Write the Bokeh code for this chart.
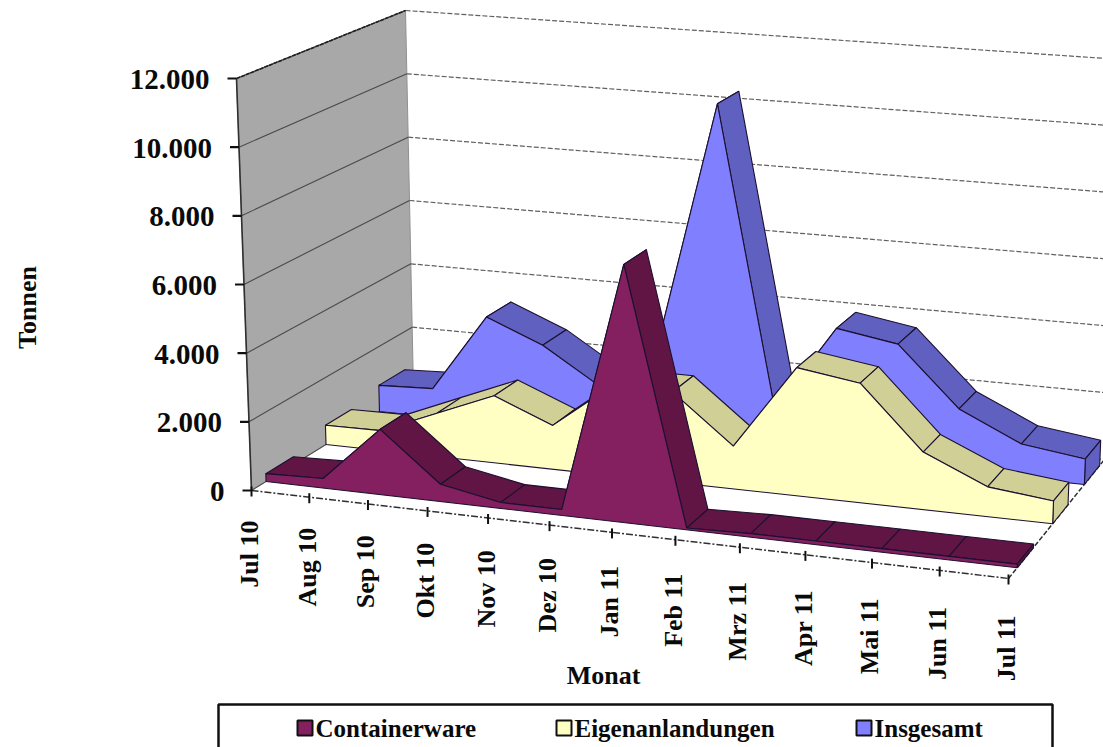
import numpy as np
from bokeh.plotting import figure
from bokeh.models import Range1d
from bokeh.core.properties import value
from bokeh.embed import file_html
from bokeh.resources import INLINE

months = ["Jul 10","Aug 10","Sep 10","Okt 10","Nov 10","Dez 10","Jan 11","Feb 11","Mrz 11","Apr 11","Mai 11","Jun 11","Jul 11"]
containerware = [230,280,1900,500,170,170,7340,50,100,100,100,100,100]
eigenanlandungen = [580,600,1300,2000,1300,2650,2650,1250,3720,3450,1650,850,650]
insgesamt = [810,880,3250,2550,1470,2820,10350,1300,3900,3600,1850,1000,750]
y_ticks = [0,2000,4000,6000,8000,10000,12000]
y_labels = ["0","2.000","4.000","6.000","8.000","10.000","12.000"]
y_max = 12000
series_names = ["Containerware","Eigenanlandungen","Insgesamt"]

# projection of the 3-D box onto the picture
FL0, FR0, BL0, BR0 = np.array([251.,490.]), np.array([1008.,578.]), np.array([413.,390.]), np.array([1104.,459.])
FL1, FR1, BL1, BR1 = np.array([236.,78.]), np.array([1024.,138.]), np.array([405.,10.]), np.array([1120.,59.])
WARP = 0.1
N = len(months) - 1

def proj(i, d, h):
    u = i / N
    w = u / (1 + WARP * (1 - u))
    f = (FL0*(1-w)+FR0*w)*(1-d) + (BL0*(1-w)+BR0*w)*d
    t = (FL1*(1-w)+FR1*w)*(1-d) + (BL1*(1-w)+BR1*w)*d
    return f + (t-f)*h/y_max

W, H = 1103, 747
p = figure(width=W, height=H, x_range=Range1d(0, W), y_range=Range1d(H, 0),
           x_axis_location=None, y_axis_location=None, toolbar_location=None,
           output_backend="svg", min_border=0, outline_line_color=None,
           background_fill_color="white")
p.grid.visible = False

def poly(pts, fill, line="#1c1030", lw=1.1, alpha=1.0):
    p.patch([q[0] for q in pts], [q[1] for q in pts], fill_color=fill, line_color=line, line_width=lw, line_alpha=alpha)

def seg(a, b, color="#303030", lw=1.0, dash="solid", alpha=1.0):
    p.line([a[0], b[0]], [a[1], b[1]], line_color=color, line_width=lw, line_dash=dash, line_alpha=alpha)

# left wall
poly([proj(0,0,0), proj(0,0,y_max), proj(0,1,y_max), proj(0,1,0)], "#a8a8a8", line="#909090", lw=1)
for t in y_ticks[1:]:
    seg(proj(0,0,t), proj(0,1,t), "#4a4a4a", 1.1)
    seg(proj(0,1,t), proj(N,1,t), "#606060", 1.2, "5 2")
seg(proj(0,1,0), proj(N,1,0), "#606060", 1.2, "5 2")
seg(proj(N,1,0), proj(N,1,y_max), "#707070", 1.1)
seg(proj(0,0,y_max), proj(0,1,y_max), "#202020", 1.6, "4 1")
seg(proj(0,0,0), proj(0,0,y_max), "#303030", 1.6)

# floor edges and axis
seg(proj(0,0,0), proj(0,1,0), "#505050", 1.1)
seg(proj(0,0,0), proj(N,0,0), "#303030", 1.5, "7 2 2 2")
seg(proj(N,0,0), proj(N,1,0), "#303030", 1.5, "5 2")

# series, back to front
styles = [
    (insgesamt, 0.79, 0.95, "#8080ff", "#5f60c0"),
    (eigenanlandungen, 0.46, 0.62, "#ffffc4", "#cfcf96"),
    (containerware, 0.09, 0.26, "#84205f", "#601545"),
]
for vals, d0, d1, front, top in styles:
    for i in range(N):
        poly([proj(i,d0,vals[i]), proj(i,d1,vals[i]), proj(i+1,d1,vals[i+1]), proj(i+1,d0,vals[i+1])], top)
    poly([proj(N,d0,0), proj(N,d1,0), proj(N,d1,vals[N]), proj(N,d0,vals[N])], top)
    pts = [proj(i,d0,vals[i]) for i in range(N+1)] + [proj(N,d0,0), proj(0,d0,0)]
    poly(pts, front)

FONT = value("Liberation Serif")
def label(x, y, txt, size, align="center", angle=0.0, base="middle"):
    p.text([x], [y], text=[txt], text_font=FONT, text_font_style="bold", text_font_size=f"{size}px",
           text_align=align, text_baseline=base, angle=angle, text_color="#0a0a0a")

# value axis
for t, lab in zip(y_ticks, y_labels):
    a = proj(0,0,t)
    seg((a[0]-9, a[1]), a, "#101010", 2.2)
    label(a[0]-27, a[1]+1, lab, 29, "right")

# month axis
for i, m in enumerate(months):
    a = proj(i,0,0)
    seg((a[0], a[1]-4), (a[0], a[1]+6), "#101010", 2.0)
    label(a[0]-2, a[1]+30+7*i/N, m, 26, "right", np.pi/2)

label(603, 675, "Monat", 26)
label(27, 307, "Tonnen", 26, "center", np.pi/2)

# legend
p.line([218,218,1052,1052], [747,704,704,747], line_color="#101010", line_width=2.5)
for name, x, col in zip(series_names, [297,556,856], ["#84205f","#ffffc4","#8080ff"]):
    poly([(x,720),(x+15,720),(x+15,735),(x,735)], col, line="#101010", lw=2)
    label(x+18, 728, name, 25, "left")

open("out.html","w").write(file_html(p, INLINE))
